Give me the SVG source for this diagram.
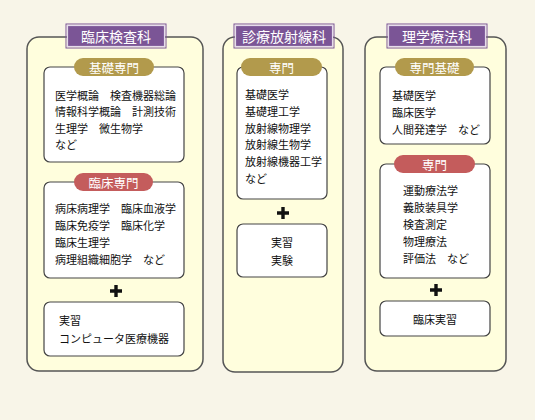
<svg xmlns="http://www.w3.org/2000/svg" width="535" height="420" viewBox="0 0 535 420">
<style>
.col{fill:#fffedd;stroke:#555;stroke-width:1.5}
.box{fill:#fff;stroke:#444;stroke-width:1.2}
.ttl{fill:#7b5596;stroke:#e6dcec;stroke-width:1.2}
.ttlo{fill:none;stroke:#7b5596;stroke-width:1}
.gold{fill:#b29a4c}
.red{fill:#c45c5c}
.tt{font-family:"Noto Sans CJK JP","Noto Sans",sans-serif;font-size:14px;fill:#fff;text-anchor:middle;dominant-baseline:central}
.pt{font-family:"Noto Sans CJK JP","Noto Sans",sans-serif;font-size:12.5px;fill:#fff;text-anchor:middle;dominant-baseline:central}
.bt{font-family:"Noto Sans CJK JP","Noto Sans",sans-serif;font-size:11px;fill:#111;dominant-baseline:central}
.c{text-anchor:middle}
.plus{fill:#111}
</style>
<rect width="535" height="420" fill="#f8f5e8"/>

<g id="col1">
<rect class="col" x="27" y="37" width="176" height="334" rx="12"/>
<rect class="ttlo" x="66" y="24" width="100" height="24"/>
<rect class="ttl" x="67.5" y="25.5" width="97" height="21"/>
<text class="tt" x="116" y="36">臨床検査科</text>
</g>
<g id="col1-basic">
<rect class="box" x="44" y="67" width="140" height="95" rx="6"/>
<rect class="gold" x="74" y="58" width="80" height="18" rx="9"/>
<text class="pt" x="114" y="67">基礎専門</text>
<text class="bt" x="55" y="95">医学概論　検査機器総論</text>
<text class="bt" x="55" y="111">情報科学概論　計測技術</text>
<text class="bt" x="55" y="127.5">生理学　微生物学</text>
<text class="bt" x="55" y="143.5">など</text>
</g>
<g id="col1-clinical">
<rect class="box" x="44" y="182" width="140" height="96" rx="6"/>
<rect class="red" x="74" y="173" width="79" height="18" rx="9"/>
<text class="pt" x="113.5" y="182">臨床専門</text>
<text class="bt" x="55" y="208">病床病理学　臨床血液学</text>
<text class="bt" x="55" y="225">臨床免疫学　臨床化学</text>
<text class="bt" x="55" y="242">臨床生理学</text>
<text class="bt" x="55" y="258.5">病理組織細胞学　など</text>
</g>
<g id="col1-practice">
<rect class="box" x="44" y="302" width="140" height="54" rx="6"/>
<text class="bt" x="59" y="320">実習</text>
<text class="bt" x="59" y="338">コンピュータ医療機器</text>
</g>

<g id="col2">
<rect class="col" x="223" y="37" width="120" height="335" rx="12"/>
<rect class="ttlo" x="234" y="24" width="100" height="24"/>
<rect class="ttl" x="235.5" y="25.5" width="97" height="21"/>
<text class="tt" x="284" y="36">診療放射線科</text>
</g>
<g id="col2-special">
<rect class="box" x="237" y="67" width="90" height="132" rx="6"/>
<rect class="gold" x="241" y="58" width="81" height="18" rx="9"/>
<text class="pt" x="281.5" y="67">専門</text>
<text class="bt" x="245" y="94">基礎医学</text>
<text class="bt" x="245" y="111">基礎理工学</text>
<text class="bt" x="245" y="127.5">放射線物理学</text>
<text class="bt" x="245" y="144">放射線生物学</text>
<text class="bt" x="245" y="161">放射線機器工学</text>
<text class="bt" x="245" y="178">など</text>
</g>
<g id="col2-practice">
<rect class="box" x="237" y="224" width="90" height="53" rx="6"/>
<text class="bt c" x="282" y="242">実習</text>
<text class="bt c" x="282" y="260">実験</text>
</g>

<g id="col3">
<rect class="col" x="365" y="37" width="141" height="334" rx="12"/>
<rect class="ttlo" x="387" y="24" width="100" height="24"/>
<rect class="ttl" x="388.5" y="25.5" width="97" height="21"/>
<text class="tt" x="437" y="36">理学療法科</text>
</g>
<g id="col3-basic">
<rect class="box" x="380" y="67" width="110" height="77" rx="6"/>
<rect class="gold" x="395" y="58" width="79" height="18" rx="9"/>
<text class="pt" x="434.5" y="67">専門基礎</text>
<text class="bt" x="392" y="95">基礎医学</text>
<text class="bt" x="392" y="112">臨床医学</text>
<text class="bt" x="392" y="128.5">人間発達学　など</text>
</g>
<g id="col3-special">
<rect class="box" x="380" y="164" width="110" height="114" rx="6"/>
<rect class="red" x="394" y="155" width="81" height="18" rx="9"/>
<text class="pt" x="434.5" y="164">専門</text>
<text class="bt" x="403" y="190">運動療法学</text>
<text class="bt" x="403" y="207">義肢装具学</text>
<text class="bt" x="403" y="224">検査測定</text>
<text class="bt" x="403" y="241">物理療法</text>
<text class="bt" x="403" y="257.5">評価法　など</text>
</g>
<g id="col3-practice">
<rect class="box" x="380" y="301" width="110" height="35" rx="6"/>
<text class="bt c" x="435" y="318.5">臨床実習</text>
</g>

<g id="connectors">
<path class="plus" d="M114.3,285h3.4v4.3h4.3v3.4h-4.3v4.3h-3.4v-4.3h-4.3v-3.4h4.3z"/>
<path class="plus" d="M281.3,207h3.4v4.3h4.3v3.4h-4.3v4.3h-3.4v-4.3h-4.3v-3.4h4.3z"/>
<path class="plus" d="M434.3,284h3.4v4.3h4.3v3.4h-4.3v4.3h-3.4v-4.3h-4.3v-3.4h4.3z"/>
</g>
</svg>
